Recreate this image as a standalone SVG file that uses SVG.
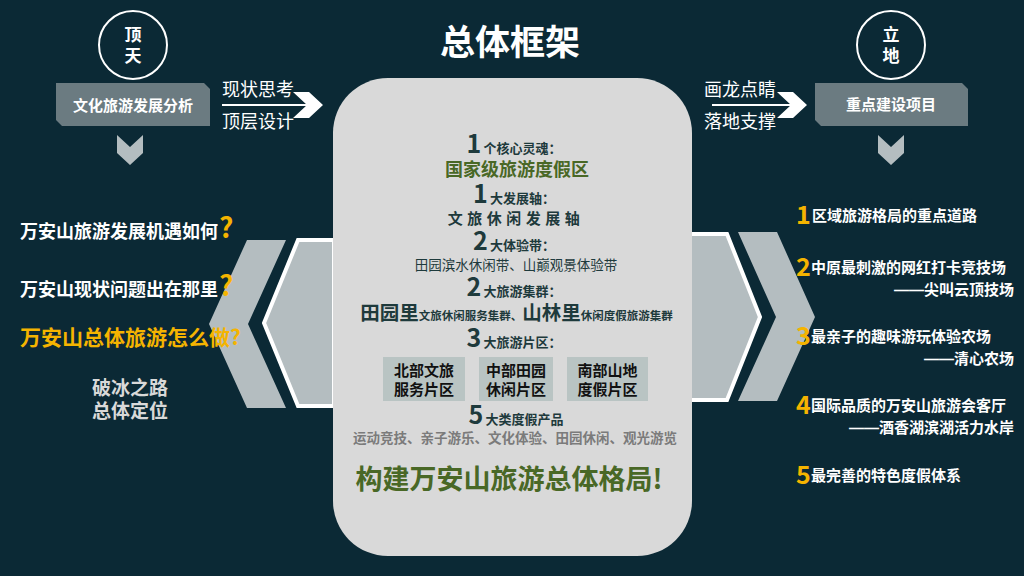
<svg xmlns="http://www.w3.org/2000/svg" width="1024" height="576" viewBox="0 0 1024 576">
<style>
text{font-family:"Noto Sans CJK SC","Noto Sans",sans-serif}
.w{fill:#ffffff}
.b{font-weight:bold}
.circ{fill:none;stroke:#ffffff;stroke-width:2}
.box{fill:#6b7b81}
.chev{fill:#b4bdc0}
.num{fill:#f5b400;font-weight:bold;font-size:25px}
.rt{fill:#ffffff;font-weight:bold;font-size:15px}
.dash{font-family:"Liberation Sans",Arial,sans-serif}
.dk{fill:#1e3a3c}
.cn{fill:#1e3a3c;font-weight:bold;font-size:25px}
.cs{fill:#1e3a3c;font-weight:bold;font-size:13px}
.pb{fill:#b9c4c3}
.pt{fill:#111111;font-weight:bold;font-size:15px;text-anchor:middle}
.grn{fill:#496826;font-weight:bold}
</style>
<rect x="0" y="0" width="1024" height="576" fill="#0b2935"/>

<g id="title"><text x="510" y="55" class="w b" font-size="35" text-anchor="middle">总体框架</text></g>

<g id="node-dingtian">
<circle cx="133" cy="45" r="34" class="circ"/>
<text x="133" y="41" class="w b" font-size="17" text-anchor="middle">顶</text>
<text x="133" y="62" class="w b" font-size="17" text-anchor="middle">天</text>
</g>
<g id="node-lidi">
<circle cx="891" cy="45" r="34" class="circ"/>
<text x="891" y="41" class="w b" font-size="17" text-anchor="middle">立</text>
<text x="891" y="62" class="w b" font-size="17" text-anchor="middle">地</text>
</g>

<g id="node-analysis">
<polygon class="box" points="56,83 204,83 210,89 210,126 62,126 56,120"/>
<text x="133" y="111" class="w b" font-size="15" text-anchor="middle">文化旅游发展分析</text>
<polygon class="chev" points="117,135 130,147 143,135 143,153 130,165 117,153"/>
</g>
<g id="node-projects">
<polygon class="box" points="815,83 962,83 968,89 968,126 821,126 815,120"/>
<text x="891" y="110" class="w b" font-size="15" text-anchor="middle">重点建设项目</text>
<polygon class="chev" points="878,135 891,147 904,135 904,153 891,165 878,153"/>
</g>

<g id="connectors">
<line x1="222" y1="105" x2="307" y2="105" stroke="#ffffff" stroke-width="2"/>
<polygon fill="#ffffff" points="293,92 309,92 323,105 309,118 293,118 307,105"/>
<line x1="712" y1="105" x2="792" y2="105" stroke="#ffffff" stroke-width="2"/>
<polygon fill="#ffffff" points="777,92 793,92 807,105 793,118 777,118 791,105"/>
<polygon class="chev" points="247,240 286,240 248,324 286,408 247,408 209,324"/>
<polygon class="chev" stroke="#ffffff" stroke-width="4" points="298,240 334,240 334,406 298,406 264,323"/>
<polygon class="chev" stroke="#ffffff" stroke-width="4" points="690,234 727,234 760,317 727,400 690,400"/>
<polygon class="chev" points="738,232 777,232 815,317 777,401 738,401 776,317"/>
</g>

<g id="labels-top">
<text x="222" y="96" class="w" font-size="18">现状思考</text>
<text x="222" y="128" class="w" font-size="18">顶层设计</text>
<text x="704" y="96" class="w" font-size="18">画龙点睛</text>
<text x="704" y="128" class="w" font-size="18">落地支撑</text>
</g>

<g id="node-panel">
<rect x="333" y="78" width="359" height="478" rx="55" ry="55" fill="#d9d9d9"/>
<text x="514" y="153" text-anchor="middle"><tspan class="cn">1</tspan><tspan class="cs" dx="2">个核心灵魂：</tspan></text>
<text x="517" y="176" class="grn" font-size="18" text-anchor="middle">国家级旅游度假区</text>
<text x="514" y="203" text-anchor="middle"><tspan class="cn">1</tspan><tspan class="cs" dx="2">大发展轴：</tspan></text>
<text x="516" y="224" class="dk b" font-size="15" letter-spacing="4.5" text-anchor="middle">文旅休闲发展轴</text>
<text x="514" y="250" text-anchor="middle"><tspan class="cn">2</tspan><tspan class="cs" dx="2">大体验带：</tspan></text>
<text x="516" y="270" class="dk" font-size="13.5" text-anchor="middle">田园滨水休闲带、山巅观景体验带</text>
<text x="514" y="296" text-anchor="middle"><tspan class="cn">2</tspan><tspan class="cs" dx="2">大旅游集群：</tspan></text>
<text x="516.5" y="320" class="dk b" text-anchor="middle"><tspan font-size="19.5">田园里</tspan><tspan font-size="11.5">文旅休闲服务集群、</tspan><tspan font-size="19.5">山林里</tspan><tspan font-size="11.5">休闲度假旅游集群</tspan></text>
<text x="514" y="347" text-anchor="middle"><tspan class="cn">3</tspan><tspan class="cs" dx="2">大旅游片区：</tspan></text>
</g>

<g id="node-north">
<rect x="383" y="357" width="82" height="44" class="pb"/>
<text x="424" y="376" class="pt">北部文旅</text>
<text x="424" y="395" class="pt">服务片区</text>
</g>
<g id="node-middle">
<rect x="479" y="357" width="74" height="44" class="pb"/>
<text x="516" y="376" class="pt">中部田园</text>
<text x="516" y="395" class="pt">休闲片区</text>
</g>
<g id="node-south">
<rect x="567" y="357" width="81" height="44" class="pb"/>
<text x="607.5" y="376" class="pt">南部山地</text>
<text x="607.5" y="395" class="pt">度假片区</text>
</g>

<g id="node-panel-bottom">
<text x="516" y="424" text-anchor="middle"><tspan class="cn">5</tspan><tspan class="cs" dx="2">大类度假产品</tspan></text>
<text x="515" y="443" fill="#7b7b7b" font-weight="bold" font-size="13.5" text-anchor="middle">运动竞技、亲子游乐、文化体验、田园休闲、观光游览</text>
<text x="509" y="489" class="grn" font-size="27" text-anchor="middle">构建万安山旅游总体格局!</text>
</g>

<g id="node-left-questions">
<text x="20" y="238" class="w b" font-size="18">万安山旅游发展机遇如何<tspan fill="#f5b400" font-size="28" dx="1">?</tspan></text>
<text x="20" y="296" class="w b" font-size="18">万安山现状问题出在那里<tspan fill="#f5b400" font-size="28" dx="1">?</tspan></text>
<text x="20" y="345" fill="#f5b400" font-weight="bold" font-size="21">万安山总体旅游怎么做?</text>
<text x="130" y="395" fill="#d9d9d9" font-weight="bold" font-size="19" text-anchor="middle">破冰之路</text>
<text x="130" y="418" fill="#d9d9d9" font-weight="bold" font-size="19" text-anchor="middle">总体定位</text>
</g>

<g id="node-right-projects">
<text x="796" y="224" class="num">1</text><text x="812" y="221" class="rt">区域旅游格局的重点道路</text>
<text x="796" y="276" class="num">2</text><text x="811" y="273" class="rt">中原最刺激的网红打卡竞技场</text>
<text x="1014" y="295" class="rt" text-anchor="end"><tspan class="dash">——</tspan>尖叫云顶技场</text>
<text x="796" y="345" class="num">3</text><text x="811" y="342" class="rt">最亲子的趣味游玩体验农场</text>
<text x="1014" y="364" class="rt" text-anchor="end"><tspan class="dash">——</tspan>清心农场</text>
<text x="796" y="414" class="num">4</text><text x="811" y="411" class="rt">国际品质的万安山旅游会客厅</text>
<text x="1014" y="433" class="rt" text-anchor="end"><tspan class="dash">——</tspan>酒香湖滨湖活力水岸</text>
<text x="796" y="484" class="num">5</text><text x="811" y="481" class="rt">最完善的特色度假体系</text>
</g>
</svg>
